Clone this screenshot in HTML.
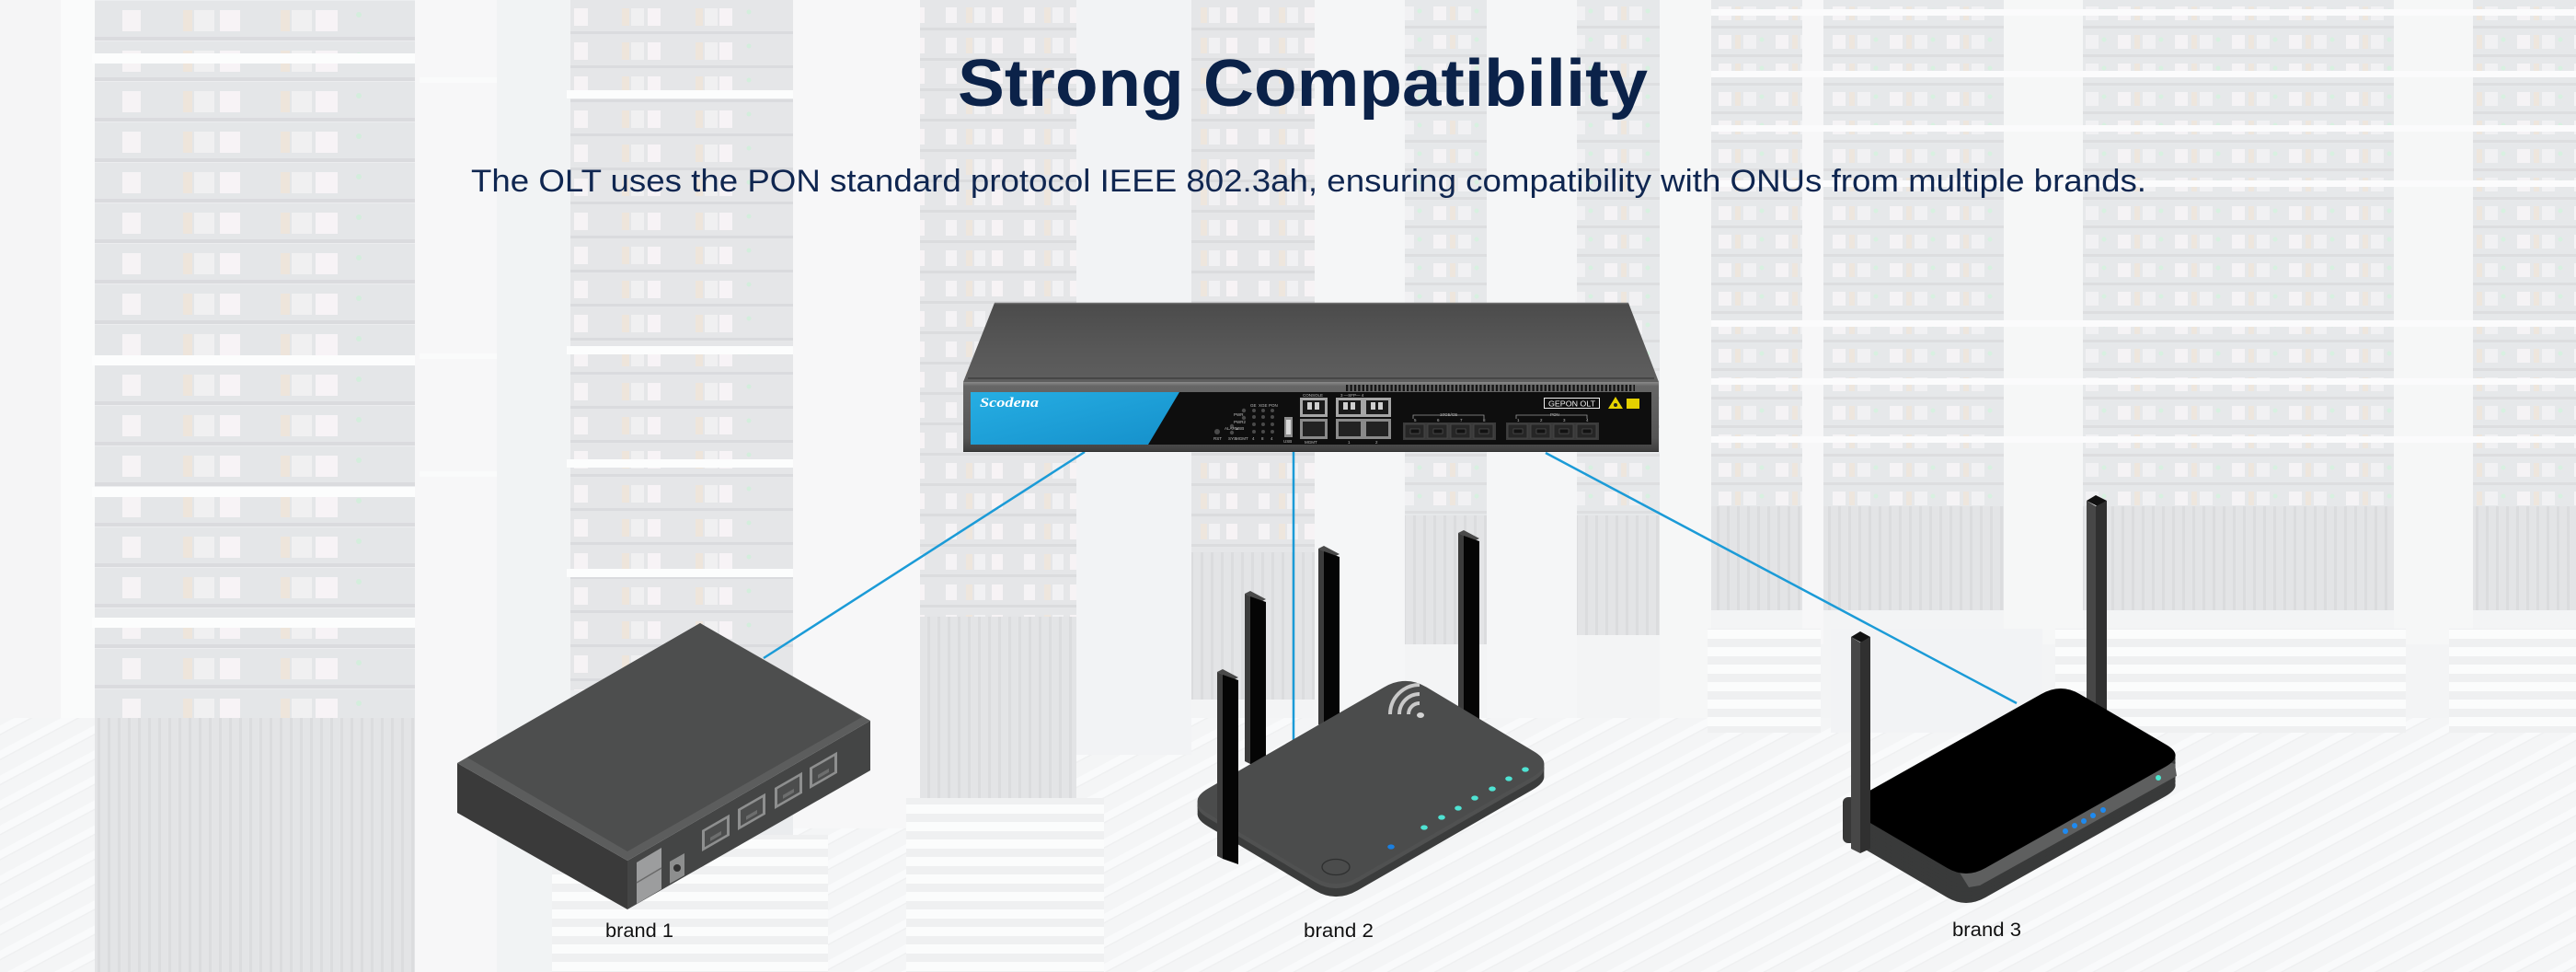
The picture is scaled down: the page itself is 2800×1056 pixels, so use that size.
<!DOCTYPE html>
<html><head><meta charset="utf-8"><style>
html,body{margin:0;padding:0;width:2800px;height:1056px;overflow:hidden;background:#edeff1}
svg{display:block}
</style></head><body>
<svg xmlns="http://www.w3.org/2000/svg" width="2800" height="1056" viewBox="0 0 2800 1056">
<defs>
 <pattern id="u1" patternUnits="userSpaceOnUse" x="103" y="0" width="348" height="44">
  <rect width="348" height="44" fill="#d8dadd"/>
  <rect y="0" width="348" height="1" fill="#e3e5e7"/>
  <rect y="40" width="348" height="4" fill="#c9cbce"/>
  <rect x="30" y="11" width="20" height="23" fill="#f2eef1"/>
  <rect x="96" y="11" width="10" height="23" fill="#e6d9cb"/>
  <rect x="108" y="11" width="22" height="23" fill="#e9e9eb"/>
  <rect x="136" y="11" width="22" height="23" fill="#f4eef2"/>
  <rect x="202" y="11" width="10" height="23" fill="#e6d9cb"/>
  <rect x="214" y="11" width="22" height="23" fill="#e9e9eb"/>
  <rect x="240" y="11" width="24" height="23" fill="#f4eef2"/>
  <circle cx="287" cy="16" r="3" fill="#bfe6cc"/>
 </pattern>
 <pattern id="u2" patternUnits="userSpaceOnUse" x="620" y="0" width="242" height="37">
  <rect width="242" height="37" fill="#d9dbde"/>
  <rect y="34" width="242" height="3" fill="#c9cbce"/>
  <rect x="4" y="9" width="15" height="19" fill="#f2eef1"/>
  <rect x="56" y="9" width="8" height="19" fill="#e6d9cb"/>
  <rect x="66" y="9" width="14" height="19" fill="#e9e9eb"/>
  <rect x="84" y="9" width="14" height="19" fill="#f4eef2"/>
  <rect x="136" y="9" width="8" height="19" fill="#e6d9cb"/>
  <rect x="146" y="9" width="14" height="19" fill="#e9e9eb"/>
  <rect x="162" y="9" width="14" height="19" fill="#f4eef2"/>
  <circle cx="194" cy="13" r="2.5" fill="#bfe6cc"/>
 </pattern>
 <pattern id="u3" patternUnits="userSpaceOnUse" x="0" y="0" width="85" height="33">
  <rect width="85" height="33" fill="#d9dbde"/>
  <rect y="30" width="85" height="3" fill="#cacccf"/>
  <rect x="8" y="8" width="12" height="17" fill="#f1eef0"/>
  <rect x="30" y="8" width="7" height="17" fill="#e6dacd"/>
  <rect x="39" y="8" width="12" height="17" fill="#ebebed"/>
  <rect x="58" y="8" width="12" height="17" fill="#f3eef1"/>
 </pattern>
 <pattern id="u4" patternUnits="userSpaceOnUse" x="0" y="0" width="62" height="31">
  <rect width="62" height="31" fill="#dbdde0"/>
  <rect y="28" width="62" height="3" fill="#cdcfd2"/>
  <rect x="8" y="7" width="14" height="15" fill="#f1eef0"/>
  <rect x="26" y="7" width="6" height="15" fill="#e6dacd"/>
  <rect x="35" y="7" width="14" height="15" fill="#ebebed"/>
  <circle cx="55" cy="12" r="2.5" fill="#c4ead2"/>
 </pattern>
 <pattern id="vent" patternUnits="userSpaceOnUse" width="11" height="10">
  <rect width="11" height="10" fill="#d6d8db"/>
  <rect x="7" width="3" height="10" fill="#caccce"/>
 </pattern>
 <pattern id="bars" patternUnits="userSpaceOnUse" width="10" height="19">
  <rect width="10" height="19" fill="#e7e9eb"/>
  <rect width="10" height="10" fill="#fafbfb"/>
 </pattern>
 <pattern id="diag" patternUnits="userSpaceOnUse" width="60" height="24" patternTransform="rotate(-28)">
  <rect width="60" height="24" fill="#eff1f2"/>
  <rect y="0" width="60" height="8" fill="#f7f8f9"/>
  <rect y="8" width="60" height="1.5" fill="#e7e9eb"/>
 </pattern>
 <pattern id="oltvent" patternUnits="userSpaceOnUse" x="1463" y="0" width="4.4" height="10">
  <rect width="4.4" height="10" fill="#6a6a6a"/>
  <rect width="2.4" height="10" fill="#151515"/>
 </pattern>
 <linearGradient id="oltTop" x1="0" y1="0" x2="0" y2="1">
  <stop offset="0" stop-color="#4b4b4b"/>
  <stop offset="0.6" stop-color="#585858"/>
  <stop offset="1" stop-color="#5e5e5e"/>
 </linearGradient>
 <linearGradient id="oltFrame" x1="0" y1="0" x2="0" y2="1">
  <stop offset="0" stop-color="#8a8a8a"/>
  <stop offset="0.06" stop-color="#666"/>
  <stop offset="0.8" stop-color="#555"/>
  <stop offset="1" stop-color="#3c3c3c"/>
 </linearGradient>
 <linearGradient id="blue" x1="0" y1="0" x2="1" y2="1">
  <stop offset="0" stop-color="#26aee3"/>
  <stop offset="1" stop-color="#1590cb"/>
 </linearGradient>
 <path id="r2top" d="M1550.7,746.6 L1667.3,816.4 Q1690,830 1666.2,843.7 L1475.8,953.3 Q1452,967 1429.3,953.4 L1312.7,883.6 Q1290,870 1313.8,856.3 L1504.2,746.7 Q1528,733 1550.7,746.6 Z"/>
 <path id="r3top" d="M2260.25,753.85 L2354.75,809.15 Q2375,821 2353.6,833.1 L2158.4,942.9 Q2137,955 2116.75,943.15 L2022.25,887.85 Q2002,876 2023.4,863.9 L2218.6,754.1 Q2240,742 2260.25,753.85 Z"/>
</defs>

<!-- ===== background ===== -->
<rect width="2800" height="1056" fill="#edeff1"/>
<rect x="0" y="0" width="66" height="1056" fill="#f0f1f2"/>
<rect x="66" y="0" width="37" height="1056" fill="#f8f9fa"/>
<rect x="0" y="780" width="2800" height="276" fill="url(#diag)"/>
<!-- R1 -->
<rect x="103" y="0" width="348" height="780" fill="url(#u1)"/>
<rect x="103" y="780" width="348" height="276" fill="url(#vent)"/>
<g fill="#fbfcfd">
 <rect x="100" y="58" width="356" height="11"/>
 <rect x="100" y="386" width="356" height="11"/>
 <rect x="100" y="529" width="356" height="11"/>
 <rect x="100" y="671" width="356" height="11"/>
</g>
<rect x="451" y="0" width="89" height="1056" fill="#f3f4f5"/>
<rect x="540" y="0" width="80" height="1056" fill="#ebedef"/>
<g fill="#f8f9fa">
 <rect x="456" y="84" width="84" height="6"/>
 <rect x="456" y="384" width="84" height="6"/>
 <rect x="456" y="512" width="84" height="6"/>
</g>
<!-- R2 -->
<rect x="620" y="0" width="242" height="750" fill="url(#u2)"/>
<rect x="620" y="750" width="242" height="157" fill="#e1e3e6"/>
<rect x="600" y="907" width="300" height="149" fill="url(#bars)"/>
<g fill="#fbfcfd">
 <rect x="616" y="98" width="250" height="9"/>
 <rect x="616" y="376" width="250" height="9"/>
 <rect x="616" y="499" width="250" height="9"/>
 <rect x="616" y="618" width="250" height="9"/>
</g>
<rect x="862" y="0" width="138" height="900" fill="#f3f4f5"/>
<!-- R3 -->
<rect x="1000" y="0" width="170" height="670" fill="url(#u3)"/>
<rect x="1000" y="670" width="170" height="197" fill="url(#vent)"/>
<rect x="985" y="867" width="215" height="189" fill="url(#bars)"/>
<rect x="1170" y="0" width="125" height="820" fill="#eceef0"/>
<!-- R4..R7 -->
<rect x="1295" y="0" width="134" height="600" fill="url(#u3)"/>
<rect x="1295" y="600" width="134" height="160" fill="url(#vent)"/>
<rect x="1429" y="0" width="98" height="800" fill="#f1f2f3"/>
<rect x="1527" y="0" width="89" height="560" fill="url(#u4)"/>
<rect x="1527" y="560" width="89" height="140" fill="url(#vent)"/>
<rect x="1616" y="0" width="98" height="780" fill="#f1f2f3"/>
<rect x="1714" y="0" width="90" height="560" fill="url(#u4)"/>
<rect x="1714" y="560" width="90" height="130" fill="url(#vent)"/>
<rect x="1804" y="0" width="56" height="780" fill="#f2f3f4"/>
<rect x="1860" y="0" width="99" height="550" fill="url(#u4)"/>
<rect x="1860" y="550" width="99" height="113" fill="url(#vent)"/>
<rect x="1959" y="0" width="23" height="700" fill="#f3f4f5"/>
<!-- R8..R10 -->
<rect x="1982" y="0" width="196" height="550" fill="url(#u4)"/>
<rect x="1982" y="550" width="196" height="113" fill="url(#vent)"/>
<rect x="2178" y="0" width="86" height="700" fill="#f2f3f4"/>
<rect x="2264" y="0" width="338" height="550" fill="url(#u4)"/>
<rect x="2264" y="550" width="338" height="113" fill="url(#vent)"/>
<rect x="2602" y="0" width="86" height="700" fill="#f2f3f4"/>
<rect x="2688" y="0" width="112" height="550" fill="url(#u4)"/>
<rect x="2688" y="550" width="112" height="113" fill="url(#vent)"/>
<g fill="#f9fafb">
 <rect x="1860" y="10" width="940" height="7"/>
 <rect x="1860" y="77" width="940" height="7"/>
 <rect x="1860" y="136" width="940" height="7"/>
 <rect x="1860" y="196" width="940" height="7"/>
 <rect x="1860" y="348" width="940" height="7"/>
 <rect x="1860" y="411" width="940" height="7"/>
 <rect x="1860" y="474" width="940" height="7"/>
</g>
<rect x="1856" y="683" width="123" height="113" fill="url(#bars)"/>
<rect x="2234" y="683" width="381" height="113" fill="url(#bars)"/>
<rect x="2662" y="683" width="138" height="113" fill="url(#bars)"/>
<rect x="1990" y="683" width="230" height="113" fill="#eceef0"/>
<!-- haze -->
<rect width="2800" height="1056" fill="#ffffff" opacity="0.32"/>

<!-- ===== title ===== -->
<text x="1041" y="115" font-family="Liberation Sans, sans-serif" font-weight="bold" font-size="72" fill="#0b2249" textLength="750" lengthAdjust="spacingAndGlyphs">Strong Compatibility</text>
<text x="512" y="208" font-family="Liberation Sans, sans-serif" font-size="34" fill="#0f2650" textLength="1821" lengthAdjust="spacingAndGlyphs">The OLT uses the PON standard protocol IEEE 802.3ah, ensuring compatibility with ONUs from multiple brands.</text>

<!-- ===== connector lines ===== -->
<g stroke="#1b9bd7" stroke-width="2.5" fill="none">
 <line x1="1179" y1="491" x2="830" y2="715"/>
 <line x1="1406" y1="491" x2="1406" y2="805"/>
 <line x1="1680" y1="492" x2="2192" y2="764"/>
</g>

<!-- ===== OLT ===== -->
<polygon points="1081,329 1770,329 1803,415 1047,415" fill="url(#oltTop)"/>
<line x1="1081" y1="329.5" x2="1770" y2="329.5" stroke="#6e6e6e" stroke-width="1.5"/>
<line x1="1052" y1="411" x2="1798" y2="411" stroke="#3e3e3e" stroke-width="1.5"/>
<rect x="1047" y="415" width="756" height="76" fill="url(#oltFrame)"/>
<rect x="1463" y="418" width="314" height="7" fill="url(#oltvent)"/>
<rect x="1055" y="426" width="740" height="57" fill="#0e0e0e"/>
<polygon points="1055,426 1282,426 1248,483 1055,483" fill="url(#blue)"/>
<text x="1065" y="442" font-family="Liberation Serif, serif" font-style="italic" font-weight="bold" font-size="15" fill="#ffffff" textLength="64" lengthAdjust="spacingAndGlyphs">Scodena</text>
<g fill="#4a4a4a">
 <circle cx="1323" cy="469" r="3"/>
 <circle cx="1339" cy="463" r="2.2"/><circle cx="1339" cy="470" r="2.2"/>
 <circle cx="1352" cy="446" r="2.2"/><circle cx="1352" cy="454" r="2.2"/>
 <circle cx="1363" cy="446" r="2"/><circle cx="1363" cy="453" r="2"/><circle cx="1363" cy="461" r="2"/><circle cx="1363" cy="469" r="2"/>
 <circle cx="1373" cy="446" r="2"/><circle cx="1373" cy="453" r="2"/><circle cx="1373" cy="461" r="2"/><circle cx="1373" cy="469" r="2"/>
 <circle cx="1383" cy="446" r="2"/><circle cx="1383" cy="453" r="2"/><circle cx="1383" cy="461" r="2"/><circle cx="1383" cy="469" r="2"/>
</g>
<g font-family="Liberation Sans, sans-serif" font-size="4.5" fill="#bdbdbd">
 <text x="1359" y="442">GE</text><text x="1368" y="442">XGE</text><text x="1379" y="442">PON</text>
 <text x="1341" y="452">PWR</text><text x="1341" y="460">PWR2</text>
 <text x="1331" y="467">ALARM</text><text x="1343" y="467">USB</text>
 <text x="1319" y="478">RST</text><text x="1335" y="478">SYS</text><text x="1343" y="478">MGMT</text>
 <text x="1361" y="478">4</text><text x="1371" y="478">8</text><text x="1381" y="478">4</text>
 <text x="1395" y="481">USB</text>
 <text x="1416" y="431">CONSOLE</text>
 <text x="1418" y="482">MGMT</text>
 <text x="1457" y="431">3 —SFP— 4</text>
 <text x="1465" y="482">1</text><text x="1495" y="482">2</text>
 <text x="1565" y="452">10GE/GE</text>
 <text x="1685" y="452">PON</text>
 <text x="1537" y="458">5</text><text x="1562" y="458">6</text><text x="1587" y="458">7</text><text x="1612" y="458">8</text>
 <text x="1649" y="458">1</text><text x="1674" y="458">2</text><text x="1699" y="458">3</text><text x="1724" y="458">4</text>
</g>
<g stroke="#9a9a9a" stroke-width="0.8" fill="none">
 <polyline points="1536,455 1536,451 1613,451 1613,455"/>
 <polyline points="1648,455 1648,451 1725,451 1725,455"/>
</g>
<rect x="1396" y="453" width="9" height="22" fill="#8c8c8c"/>
<rect x="1398" y="456" width="5" height="16" fill="#d8d8d8"/>
<g>
 <rect x="1413" y="432" width="30" height="21" fill="#a6a6a6"/>
 <rect x="1416" y="435" width="24" height="15" fill="#1a1a1a"/>
 <rect x="1421" y="437" width="5" height="8" fill="#cfcfcf"/><rect x="1429" y="437" width="5" height="8" fill="#cfcfcf"/>
 <rect x="1413" y="455" width="30" height="22" fill="#8a8a8a"/>
 <rect x="1416" y="458" width="24" height="16" fill="#222"/>
 <rect x="1452" y="432" width="60" height="21" fill="#a6a6a6"/>
 <rect x="1455" y="435" width="24" height="15" fill="#1a1a1a"/><rect x="1485" y="435" width="24" height="15" fill="#1a1a1a"/>
 <rect x="1460" y="437" width="5" height="8" fill="#cfcfcf"/><rect x="1468" y="437" width="5" height="8" fill="#cfcfcf"/>
 <rect x="1490" y="437" width="5" height="8" fill="#cfcfcf"/><rect x="1498" y="437" width="5" height="8" fill="#cfcfcf"/>
 <rect x="1452" y="455" width="60" height="22" fill="#8a8a8a"/>
 <rect x="1455" y="458" width="24" height="16" fill="#222"/><rect x="1485" y="458" width="24" height="16" fill="#222"/>
</g>
<g>
 <rect x="1525" y="459" width="101" height="19" fill="#3a3a3a"/>
 <rect x="1637" y="459" width="101" height="19" fill="#3a3a3a"/>
 <g fill="#262626" stroke="#4a4a4a" stroke-width="0.8">
  <rect x="1527" y="461" width="21" height="15"/><rect x="1552" y="461" width="21" height="15"/><rect x="1577" y="461" width="21" height="15"/><rect x="1602" y="461" width="21" height="15"/>
  <rect x="1639" y="461" width="21" height="15"/><rect x="1664" y="461" width="21" height="15"/><rect x="1689" y="461" width="21" height="15"/><rect x="1714" y="461" width="21" height="15"/>
 </g>
 <g fill="#121212" stroke="#5a5a5a" stroke-width="0.6">
  <rect x="1533" y="466" width="10" height="5"/><rect x="1558" y="466" width="10" height="5"/><rect x="1583" y="466" width="10" height="5"/><rect x="1608" y="466" width="10" height="5"/>
  <rect x="1645" y="466" width="10" height="5"/><rect x="1670" y="466" width="10" height="5"/><rect x="1695" y="466" width="10" height="5"/><rect x="1720" y="466" width="10" height="5"/>
 </g>
</g>
<rect x="1678.5" y="432.5" width="60" height="11" fill="none" stroke="#eeeeee" stroke-width="1"/>
<text x="1683" y="441.5" font-family="Liberation Sans, sans-serif" font-size="8.5" fill="#f2f2f2" textLength="51" lengthAdjust="spacingAndGlyphs">GEPON OLT</text>
<polygon points="1756,431 1764,444 1748,444" fill="#e6d300"/>
<circle cx="1756" cy="440" r="2" fill="#222"/>
<rect x="1768" y="433" width="14" height="11" fill="#e4d000"/>
<line x1="1047" y1="490.5" x2="1803" y2="490.5" stroke="#2e2e2e" stroke-width="1"/>

<!-- ===== brand 1 ===== -->
<polygon points="497,829 682,935 682,988 497,883" fill="#3a3a3a"/>
<polygon points="682,935 946,783 946,837 682,988" fill="#444545"/>
<polygon points="761,677 946,783 682,935 497,829" fill="#5c5d5d"/>
<polygon points="761,677 937,779 682,925 508,823" fill="#4d4e4e"/>
<polygon points="692,937 719,921 719,966 692,982" fill="#9c9d9e"/>
<line x1="692" y1="959" x2="719" y2="943" stroke="#6a6a6a" stroke-width="1.5"/>
<polygon points="728,936 744,927 744,951 728,960" fill="#8d8e8e"/>
<circle cx="736" cy="943" r="4" fill="#333"/>
<g>
 <g transform="matrix(1,-0.576,0,1,763,902)"><rect width="30" height="23" fill="#8e8f8f"/><rect x="3" y="3" width="24" height="17" fill="#4c4d4d"/><rect x="9" y="13" width="12" height="4" fill="#6d6e6e"/></g>
 <g transform="matrix(1,-0.576,0,1,802,879)"><rect width="30" height="23" fill="#8e8f8f"/><rect x="3" y="3" width="24" height="17" fill="#4c4d4d"/><rect x="9" y="13" width="12" height="4" fill="#6d6e6e"/></g>
 <g transform="matrix(1,-0.576,0,1,842,856)"><rect width="30" height="23" fill="#8e8f8f"/><rect x="3" y="3" width="24" height="17" fill="#4c4d4d"/><rect x="9" y="13" width="12" height="4" fill="#6d6e6e"/></g>
 <g transform="matrix(1,-0.576,0,1,880,834)"><rect width="30" height="23" fill="#8e8f8f"/><rect x="3" y="3" width="24" height="17" fill="#4c4d4d"/><rect x="9" y="13" width="12" height="4" fill="#6d6e6e"/></g>
</g>

<!-- ===== brand 2 ===== -->
<g>
 <polygon points="1353,645 1359,642 1376,651 1370,654" fill="#4a4a4a"/>
 <polygon points="1353,645 1359,648 1359,830 1353,827" fill="#3c3c3c"/>
 <polygon points="1359,648 1376,654 1376,836 1359,830" fill="#050505"/>
 <polygon points="1433,596 1439,593 1456,602 1450,605" fill="#4a4a4a"/>
 <polygon points="1433,596 1439,599 1439,790 1433,787" fill="#3c3c3c"/>
 <polygon points="1439,599 1456,605 1456,796 1439,790" fill="#050505"/>
 <polygon points="1585,579 1591,576 1608,585 1602,588" fill="#4a4a4a"/>
 <polygon points="1585,579 1591,582 1591,790 1585,787" fill="#3c3c3c"/>
 <polygon points="1591,582 1608,588 1608,796 1591,790" fill="#050505"/>
</g>
<g fill="#3b3c3c">
 <use href="#r2top" transform="translate(0,14)"/>
 <use href="#r2top" transform="translate(0,11)"/>
 <use href="#r2top" transform="translate(0,8)"/>
 <use href="#r2top" transform="translate(0,5)"/>
 <use href="#r2top" transform="translate(0,2)"/>
</g>
<use href="#r2top" transform="translate(0,5)" fill="#505151"/>
<use href="#r2top" fill="#4b4c4c"/>
<g fill="none" stroke="#c9c9c9" stroke-width="4">
 <path d="M1531,776 A12,12 0 0 1 1543,764"/>
 <path d="M1521,776 A22,22 0 0 1 1543,754"/>
 <path d="M1511,776 A32,32 0 0 1 1543,744"/>
</g>
<ellipse cx="1544" cy="777" rx="4" ry="3" fill="#d4d4d4"/>
<g fill="#4fe3d3">
 <ellipse cx="1548" cy="899" rx="3.8" ry="2.6"/><ellipse cx="1567" cy="888" rx="3.8" ry="2.6"/>
 <ellipse cx="1585" cy="878" rx="3.8" ry="2.6"/><ellipse cx="1603" cy="867" rx="3.8" ry="2.6"/>
 <ellipse cx="1622" cy="857" rx="3.8" ry="2.6"/><ellipse cx="1640" cy="846" rx="3.8" ry="2.6"/>
 <ellipse cx="1658" cy="836" rx="3.8" ry="2.6"/>
</g>
<ellipse cx="1512" cy="920" rx="3.8" ry="2.6" fill="#1a7fe0"/>
<ellipse cx="1452" cy="942" rx="15" ry="8.5" fill="none" stroke="#2e2f2f" stroke-width="1.3"/>
<polygon points="1323,730 1329,727 1346,736 1340,739" fill="#4a4a4a"/>
<polygon points="1323,730 1329,733 1329,933 1323,930" fill="#3c3c3c"/>
<polygon points="1329,733 1346,739 1346,939 1329,933" fill="#050505"/>

<!-- ===== brand 3 ===== -->
<polygon points="2268,544 2278,538 2290,544 2280,550" fill="#111"/>
<polygon points="2268,544 2278,550 2278,800 2268,795" fill="#474747"/>
<polygon points="2278,550 2290,544 2290,795 2278,800" fill="#303030"/>
<rect x="2003" y="866" width="14" height="50" rx="6" fill="#383838"/>
<g fill="#393a3a">
 <use href="#r3top" transform="translate(0,32)"/>
 <use href="#r3top" transform="translate(0,28)"/>
 <use href="#r3top" transform="translate(0,24)"/>
 <use href="#r3top" transform="translate(0,20)"/>
 <use href="#r3top" transform="translate(0,16)"/>
 <use href="#r3top" transform="translate(0,12)"/>
 <use href="#r3top" transform="translate(0,8)"/>
 <use href="#r3top" transform="translate(0,4)"/>
</g>
<polygon points="2130,948 2352,826 2364,830 2366,843 2152,962 2140,964" fill="#5e5f5f"/>
<use href="#r3top" fill="#000000"/>
<g fill="#1e8af0">
 <circle cx="2245" cy="903" r="3"/><circle cx="2255" cy="897" r="3"/><circle cx="2265" cy="892" r="3"/>
 <circle cx="2275" cy="886" r="3"/><circle cx="2286" cy="880" r="3"/>
</g>
<circle cx="2346" cy="845" r="3" fill="#4be8cf"/>
<polygon points="2012,692 2022,686 2033,692 2023,698" fill="#111"/>
<polygon points="2012,692 2022,698 2022,927 2012,922" fill="#474747"/>
<polygon points="2022,698 2033,692 2033,922 2022,927" fill="#303030"/>

<!-- ===== labels ===== -->
<g font-family="Liberation Sans, sans-serif" font-size="21" fill="#111111">
 <text x="658" y="1018" textLength="74" lengthAdjust="spacingAndGlyphs">brand 1</text>
 <text x="1417" y="1018" textLength="76" lengthAdjust="spacingAndGlyphs">brand 2</text>
 <text x="2122" y="1017" textLength="75" lengthAdjust="spacingAndGlyphs">brand 3</text>
</g>
</svg>
</body></html>
